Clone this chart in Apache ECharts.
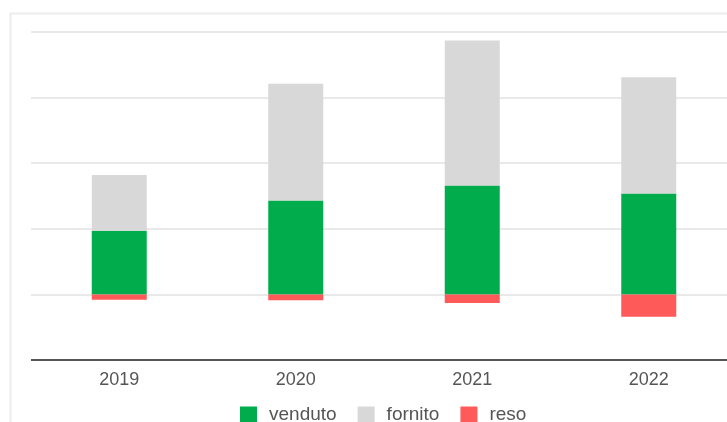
<!DOCTYPE html>
<html>
<head>
<meta charset="utf-8">
<script src="https://cdn.jsdelivr.net/npm/echarts@6/dist/echarts.min.js"></script>
<style>
  html, body { margin: 0; padding: 0; background: #ffffff; }
  #chart { width: 727px; height: 422px; }
</style>
</head>
<body>
<div id="chart"></div>
<script>
// Yearly quantities: sold, supplied (stacked on top) and returned (below zero)
const years = ['2019', '2020', '2021', '2022'];
const venduto = [97, 143, 166, 154];
const fornito = [85, 178, 221, 177];
const reso = [-8, -9, -13, -34];

const chart = echarts.init(document.getElementById('chart'), null, { renderer: 'canvas' });

const fontFamily = 'Arial, "Liberation Sans", sans-serif';

chart.setOption({
  animation: false,
  textStyle: { fontFamily: fontFamily },
  graphic: [{
    type: 'rect',
    left: 8, top: 11,
    shape: { width: 740, height: 430 },
    style: { fill: 'none', stroke: '#ececec', lineWidth: 2 },
    silent: true
  }],
  grid: {
    left: 31, top: 32, width: 706, height: 328,
    containLabel: false,
    outerBoundsMode: 'none'
  },
  legend: {
    top: 405,
    left: 240,
    padding: 0,
    itemWidth: 17,
    itemHeight: 16,
    itemGap: 21,
    icon: 'rect',
    textStyle: { fontSize: 19, color: '#555', fontFamily: fontFamily, padding: [0, 0, 0, 7] },
    data: ['venduto', 'fornito', 'reso']
  },
  xAxis: {
    type: 'category',
    data: years,
    position: 'bottom',
    axisLine: { show: false },
    axisTick: { show: false },
    axisLabel: { fontSize: 18, color: '#555', margin: 11 }
  },
  yAxis: {
    type: 'value',
    min: -100,
    max: 400,
    interval: 100,
    axisLabel: { show: false },
    axisLine: { show: false },
    axisTick: { show: false },
    splitLine: {
      lineStyle: { color: ['#555555', '#e9e9e9', '#e9e9e9', '#e9e9e9', '#e9e9e9', '#e9e9e9'], width: 2 }
    }
  },
  series: [
    {
      name: 'venduto', type: 'bar', stack: 'tot', data: venduto,
      barWidth: 55, itemStyle: { color: '#00ac4b' }
    },
    {
      name: 'fornito', type: 'bar', stack: 'tot', data: fornito,
      barWidth: 55, itemStyle: { color: '#d8d8d8' }
    },
    {
      name: 'reso', type: 'bar', stack: 'tot', data: reso,
      barWidth: 55, itemStyle: { color: '#ff5a5a' }
    }
  ]
});
</script>
</body>
</html>
